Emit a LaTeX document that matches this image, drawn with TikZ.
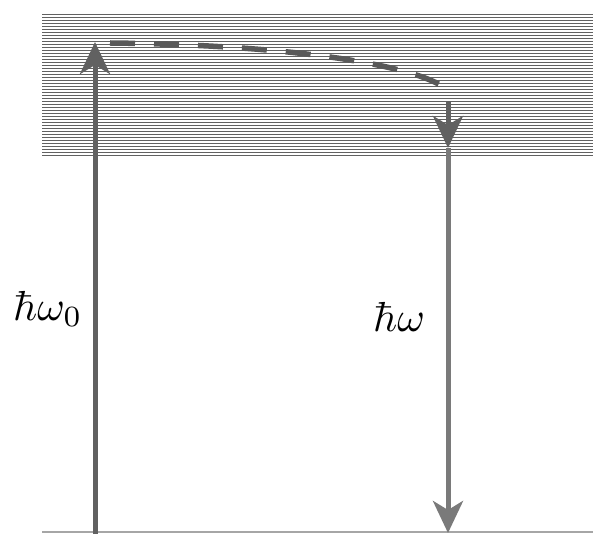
\documentclass[tikz,border=0pt]{standalone}
\usetikzlibrary{arrows.meta}
\begin{document}
\begin{tikzpicture}[x=1pt,y=-1pt,
  arr/.style={line width=5pt, -{Stealth[length=32pt,width=30pt,inset=9pt]}},
  bandline/.style={line width=1.7pt, color=black!62},
  dashcurve/.style={line width=5.5pt, color=black!65, dash pattern=on 25pt off 19pt},
  lbl/.style={anchor=base west, inner sep=0pt}]
\useasboundingbox (0,0) rectangle (593,534);
\foreach \i in {0,...,47} \draw[bandline] (42,14.5+3*\i) -- (593,14.5+3*\i);
\coordinate (gl) at (42,532); \coordinate (gr) at (593,532);
\draw[black!35, line width=1.2pt] (gl) -- (gr);
\coordinate (lb) at (95,534); \coordinate (lt) at (95,42);
\draw[arr, color=black!62] (lb) -- (lt);
\coordinate (ds) at (110,43); \coordinate (de) at (442,86);
\draw[dashcurve] (ds) .. controls (300,45) and (410,66) .. (de);
\coordinate (rs) at (448,102); \coordinate (rm) at (448,148); \coordinate (re) at (448,533);
\draw[arr, color=black!62] (rs) -- (rm);
\draw[arr, color=black!52] (rm) -- (re);
\node[lbl] (l0) at (13,320) {\scalebox{4.2}{$\hbar\omega_{\mathrm{0}}$}};
\node[lbl] (l1) at (373,331) {\scalebox{4.2}{$\hbar\omega$}};
\end{tikzpicture}
\end{document}
